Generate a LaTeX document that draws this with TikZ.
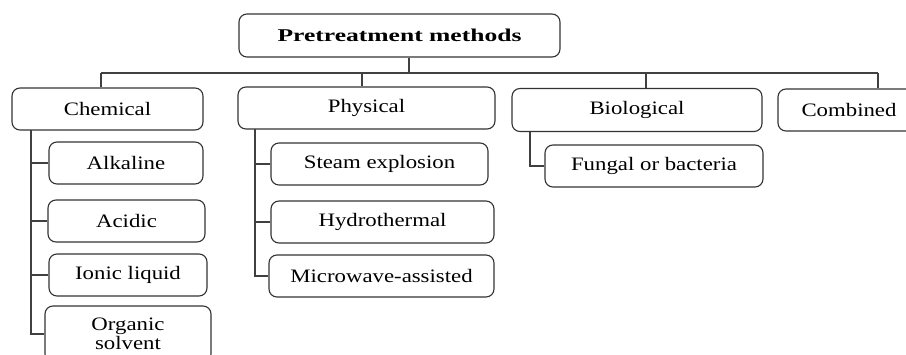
\documentclass[tikz,border=0pt]{standalone}
\usepackage{fontspec}
\setmainfont{Liberation Serif}[FakeStretch=1.2]
\newfontfamily\titlefont{Liberation Serif}[FakeStretch=1.42]
\begin{document}
\begin{tikzpicture}[x=1pt,y=-1pt,
  box/.style={draw=black!80, line width=1.1pt, rounded corners=8pt, rectangle, inner sep=0pt,
    minimum height=42pt, font=\fontsize{19}{19}\selectfont, text=black},
  conn/.style={draw=black!75, line width=1.1pt}]
\useasboundingbox (0,0) rectangle (906,354);
% nodes
\node[box, minimum width=321pt, minimum height=43pt, font=\fontsize{18}{18}\selectfont\titlefont\bfseries] (top) at (399.5,35.5) {Pretreatment methods};
\node[box, minimum width=191pt] (chem) at (107.5,109) {Chemical};
\node[box, minimum width=257pt] (phys) at (366.5,108) {Physical};
\node[box, minimum width=250pt, minimum height=43pt] (bio) at (637,110) {Biological};
\node[box, minimum width=142pt] (comb) at (849,110) {Combined};
\node[box, minimum width=154pt] (alk) at (126,163) {Alkaline};
\node[box, minimum width=157pt] (acid) at (126.5,221) {Acidic};
\node[box, minimum width=158pt] (ionic) at (128,275) {Ionic liquid};
\node[box, minimum width=166pt, minimum height=56pt, align=center, font=\fontsize{19}{19}\selectfont] (org) at (128,334) {Organic\\solvent};
\node[box, minimum width=217pt] (steam) at (379.5,164) {Steam explosion};
\node[box, minimum width=223pt] (hydro) at (382.5,222) {Hydrothermal};
\node[box, minimum width=225pt] (micro) at (381.5,276) {Microwave-assisted};
\node[box, minimum width=218pt] (fung) at (654,166) {Fungal or bacteria};
% bus
\coordinate (stem) at (409,73);
\coordinate (dC) at (101,73);
\coordinate (dP) at (362,73);
\coordinate (dB) at (646,73);
\coordinate (dM) at (878,73);
\draw[conn] (stem |- top.south) -- (stem);
\draw[conn] (dC) -- (dM);
\draw[conn] (dC) -- (dC |- chem.north);
\draw[conn] (dP) -- (dP |- phys.north);
\draw[conn] (dB) -- (dB |- bio.north);
\draw[conn] (dM) -- (dM |- comb.north);
% chemical spine
\coordinate (cs) at (31,130);
\draw[conn] (cs) |- (org.west);
\draw[conn] (cs |- alk.west) -- (alk.west);
\draw[conn] (cs |- acid.west) -- (acid.west);
\draw[conn] (cs |- ionic.west) -- (ionic.west);
% physical spine
\coordinate (ps) at (255,129);
\draw[conn] (ps) |- (micro.west);
\draw[conn] (ps |- steam.west) -- (steam.west);
\draw[conn] (ps |- hydro.west) -- (hydro.west);
% biological spine
\coordinate (bs) at (530,132);
\draw[conn] (bs) |- (fung.west);
\end{tikzpicture}
\end{document}
